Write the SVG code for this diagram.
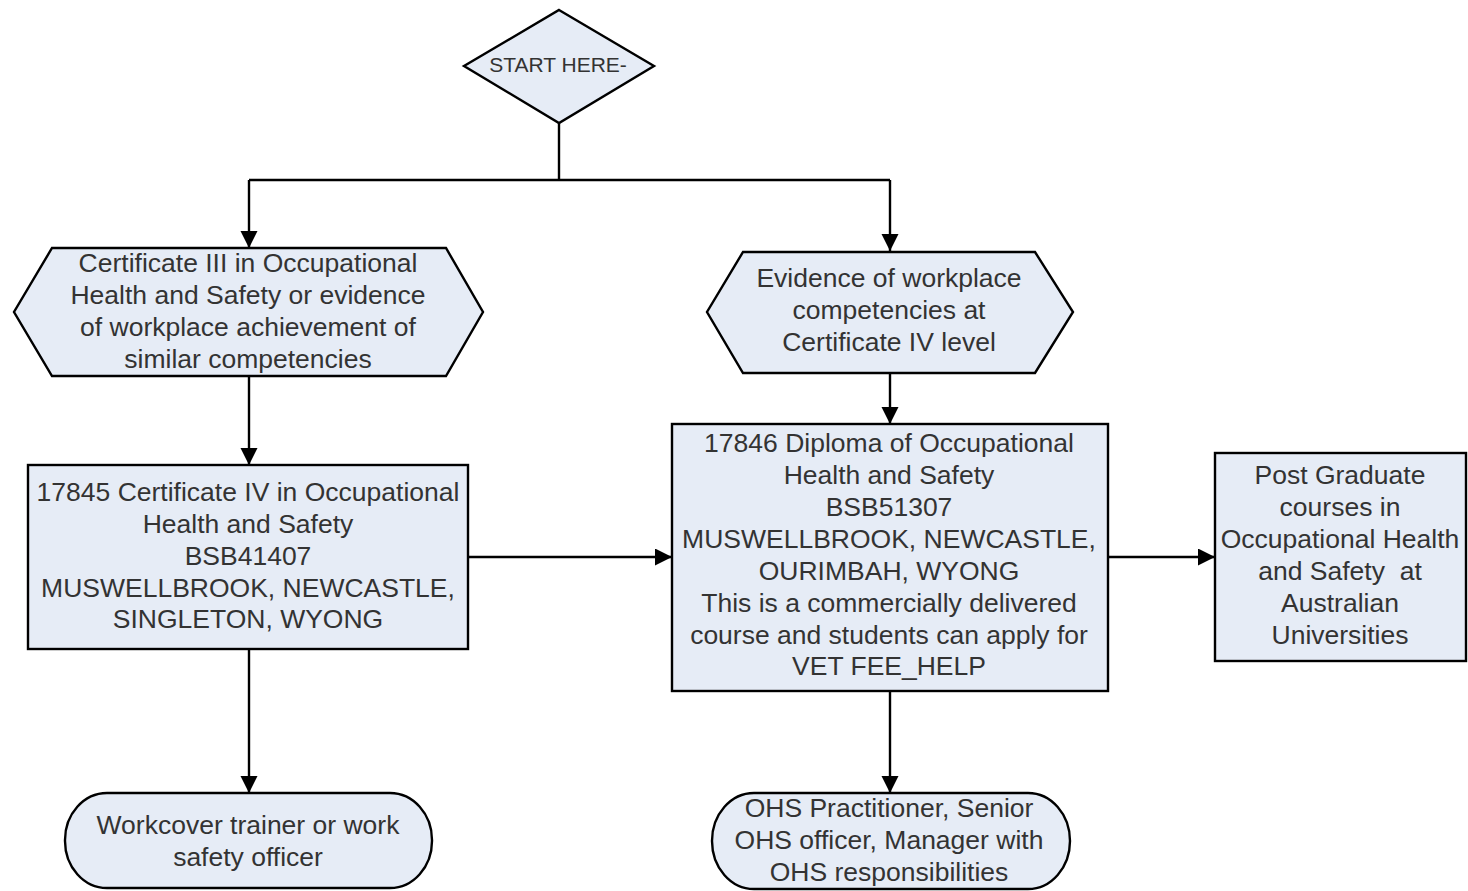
<svg xmlns="http://www.w3.org/2000/svg" width="1468" height="891" viewBox="0 0 1468 891">
<style>
.s{fill:#e6ecf6;stroke:#000;stroke-width:2.4}
.t{font-family:"Liberation Sans",Arial,sans-serif;font-size:26.5px;fill:#333;text-anchor:middle}
.c{fill:none;stroke:#000;stroke-width:2.4}
</style>
<defs>
<marker id="a" markerUnits="userSpaceOnUse" markerWidth="18" markerHeight="18" refX="17" refY="8.5" orient="auto">
<path d="M0,0 L17,8.5 L0,17 Z" fill="#000"/>
</marker>
</defs>
<rect width="1468" height="891" fill="#fff"/>
<g id="connectors">
<path class="c" d="M559,123 V180"/>
<path class="c" d="M249,180 H890"/>
<path class="c" d="M249,180 V248" marker-end="url(#a)"/>
<path class="c" d="M890,180 V251" marker-end="url(#a)"/>
<path class="c" d="M249,376 V465" marker-end="url(#a)"/>
<path class="c" d="M890,373 V424" marker-end="url(#a)"/>
<path class="c" d="M468,557 H672" marker-end="url(#a)"/>
<path class="c" d="M1108,557 H1215" marker-end="url(#a)"/>
<path class="c" d="M249,649 V793" marker-end="url(#a)"/>
<path class="c" d="M890,691 V793" marker-end="url(#a)"/>
</g>
<g id="start">
<polygon class="s" points="559,10 654,66 559,123 464,66"/>
<text class="t" style="font-size:21px" x="558" y="72">START HERE-</text>
</g>
<g id="cert3">
<polygon class="s" points="52,248 446,248 483,312 446,376 52,376 14,312"/>
<text class="t" x="248" y="272">Certificate III in Occupational</text>
<text class="t" x="248" y="304">Health and Safety or evidence</text>
<text class="t" x="248" y="336">of workplace achievement of</text>
<text class="t" x="248" y="368">similar competencies</text>
</g>
<g id="evidence4">
<polygon class="s" points="743,252 1035,252 1073,312 1035,373 743,373 707,312"/>
<text class="t" x="889" y="287">Evidence of workplace</text>
<text class="t" x="889" y="319">competencies at</text>
<text class="t" x="889" y="351">Certificate IV level</text>
</g>
<g id="cert4">
<rect class="s" x="28" y="465" width="440" height="184"/>
<text class="t" x="248" y="501">17845 Certificate IV in Occupational</text>
<text class="t" x="248" y="533">Health and Safety</text>
<text class="t" x="248" y="565">BSB41407</text>
<text class="t" x="248" y="597">MUSWELLBROOK, NEWCASTLE,</text>
<text class="t" x="248" y="628">SINGLETON, WYONG</text>
</g>
<g id="diploma">
<rect class="s" x="672" y="424" width="436" height="267"/>
<text class="t" x="889" y="452">17846 Diploma of Occupational</text>
<text class="t" x="889" y="484">Health and Safety</text>
<text class="t" x="889" y="516">BSB51307</text>
<text class="t" x="889" y="548">MUSWELLBROOK, NEWCASTLE,</text>
<text class="t" x="889" y="580">OURIMBAH, WYONG</text>
<text class="t" x="889" y="612">This is a commercially delivered</text>
<text class="t" x="889" y="644">course and students can apply for</text>
<text class="t" x="889" y="675">VET FEE_HELP</text>
</g>
<g id="postgrad">
<rect class="s" x="1215" y="453" width="251" height="208"/>
<text class="t" x="1340" y="484">Post Graduate</text>
<text class="t" x="1340" y="516">courses in</text>
<text class="t" x="1340" y="548">Occupational Health</text>
<text class="t" x="1340" y="580" style="white-space:pre">and Safety  at</text>
<text class="t" x="1340" y="612">Australian</text>
<text class="t" x="1340" y="644">Universities</text>
</g>
<g id="workcover">
<rect class="s" x="65" y="793" width="367" height="95" rx="42" ry="47"/>
<text class="t" x="248" y="834">Workcover trainer or work</text>
<text class="t" x="248" y="866">safety officer</text>
</g>
<g id="ohs">
<rect class="s" x="712" y="793" width="358" height="96" rx="42" ry="48"/>
<text class="t" x="889" y="817">OHS Practitioner, Senior</text>
<text class="t" x="889" y="849">OHS officer, Manager with</text>
<text class="t" x="889" y="881">OHS responsibilities</text>
</g>
</svg>
